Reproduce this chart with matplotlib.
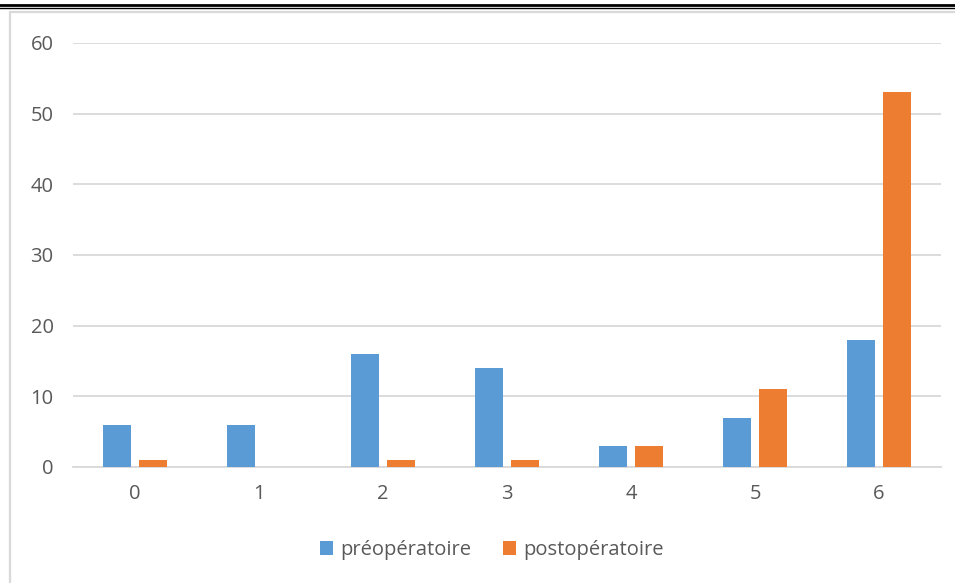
import matplotlib
matplotlib.use("Agg")
import matplotlib.pyplot as plt
from matplotlib.patches import Rectangle
from matplotlib.lines import Line2D
import numpy as np

categories = ["0", "1", "2", "3", "4", "5", "6"]
pre_values = [6, 6, 16, 14, 3, 7, 18]
post_values = [1, 0, 1, 1, 3, 11, 53]
series_names = ["préopératoire", "postopératoire"]
y_ticks = [0, 10, 20, 30, 40, 50, 60]

BLUE = "#5B9BD5"
ORANGE = "#ED7D31"
TEXT = "#595959"
GRID = "#D9D9D9"

plt.rcParams["font.family"] = ["Open Sans", "DejaVu Sans"]

W, H = 955, 583
fig = plt.figure(figsize=(W / 100, H / 100), dpi=100)

# Page rule above the chart: thick line followed by a thin line
fig.add_artist(Line2D([0, 1], [1 - 4.5 / H, 1 - 4.5 / H], color="black", lw=2.0,
                      transform=fig.transFigure))
fig.add_artist(Line2D([0, 1], [1 - 8.2 / H, 1 - 8.2 / H], color="black", lw=1.0,
                      transform=fig.transFigure))

# Light chart-area border
fig.add_artist(Rectangle((9.5 / W, -0.05), 1.1, 1 - 12.5 / H + 0.05,
                         transform=fig.transFigure, fill=False,
                         edgecolor=GRID, lw=1.6))

left, right = 73 / W, 941 / W
y0_px, y60_px = 467, 43
ax = fig.add_axes([left, 1 - y0_px / H, right - left, (y0_px - y60_px) / H])

x = np.arange(len(categories))
bw = 0.225
off = 0.145
ax.bar(x - off, pre_values, width=bw, color=BLUE, label=series_names[0], zorder=3)
ax.bar(x + off, post_values, width=bw, color=ORANGE, label=series_names[1], zorder=3)

ax.set_xlim(-0.5, len(categories) - 0.5)
ax.set_ylim(0, 60)
ax.set_yticks(y_ticks)
ax.set_xticks(x)
ax.set_xticklabels(categories)
ax.yaxis.grid(True, color=GRID, lw=1.3, zorder=0)
ax.set_axisbelow(True)
for s in ["top", "right", "left"]:
    ax.spines[s].set_visible(False)
ax.spines["bottom"].set_color(GRID)
ax.spines["bottom"].set_linewidth(1.3)
ax.tick_params(axis="both", length=0, colors=TEXT, labelsize=14.5)
ax.tick_params(axis="y", pad=14)
ax.tick_params(axis="x", pad=12)

handles, labels = ax.get_legend_handles_labels()
leg = fig.legend(handles, labels, loc="center", bbox_to_anchor=(492 / W, 1 - 550 / H),
                 ncol=2, frameon=False, fontsize=14.5, handlelength=0.65,
                 handleheight=0.65, handletextpad=0.35, columnspacing=1.6)
for t in leg.get_texts():
    t.set_color(TEXT)

fig.savefig("out.png", dpi=100)
